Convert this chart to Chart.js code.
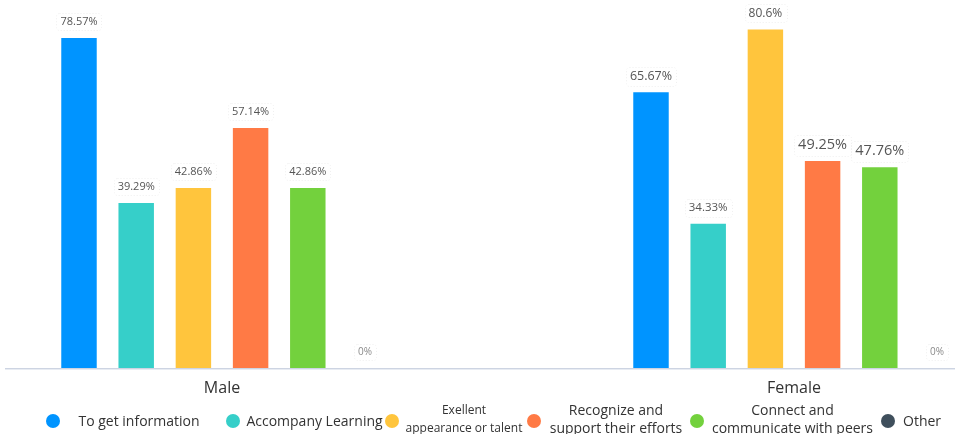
<!DOCTYPE html>
<html>
<head>
<meta charset="utf-8">
<script src="https://cdn.jsdelivr.net/npm/chart.js@4.4.1/dist/chart.umd.min.js"></script>
<style>
    html, body { margin: 0; padding: 0; background: #fff; }
    #wrap { position: relative; width: 955px; height: 434px; overflow: hidden; font-family: 'Open Sans', sans-serif; }
    #chart { position: absolute; left: 0; top: 0; }
    .lg-dot { position: absolute; width: 14px; height: 14px; border-radius: 50%; }
    .lg-text { position: absolute; color: #333; white-space: nowrap; text-align: center; line-height: 18px; }
</style>
</head>
<body>
<div id="wrap">
    <canvas id="chart" width="955" height="434"></canvas>
    <div id="legend"></div>
</div>
<script>
const genders = ['Male', 'Female'];
const reasons = [
    'To get information',
    'Accompany Learning',
    ['Exellent', 'appearance or talent'],
    ['Recognize and', 'support their efforts'],
    ['Connect and', 'communicate with peers'],
    'Other'
];

// percentages per gender: [Male, Female]
const toGetInformation = [78.57, 65.67];
const accompanyLearning = [39.29, 34.33];
const excellentAppearance = [42.86, 80.6];
const recognizeEfforts = [57.14, 49.25];
const connectWithPeers = [42.86, 47.76];
const otherReason = [0, 0];

const seriesValues = [toGetInformation, accompanyLearning, excellentAppearance, recognizeEfforts, connectWithPeers, otherReason];
const seriesColors = ['#0094ff', '#36cfc9', '#ffc53d', '#ff7a45', '#73d13d', '#3f4f5c'];

// value label font size per series, [Male, Female]
const labelSizes = [[11, 12.5], [11, 11.5], [11, 12], [11, 14.5], [11, 14.5], [10, 10]];

// legend placement: dot centre, text box left/width, font size
const legendSpots = [
    { dot: 53, left: 78, width: 122, size: 14 },
    { dot: 233, left: 246, width: 137, size: 14 },
    { dot: 392, left: 405, width: 118, size: 12 },
    { dot: 534, left: 548, width: 136, size: 14 },
    { dot: 697, left: 710, width: 165, size: 14 },
    { dot: 888, left: 903, width: 38, size: 14 }
];

const FONT = '"Open Sans", sans-serif';

// full-width baseline under the bars
const baseLine = {
    id: 'baseLine',
    beforeDatasetsDraw(chart) {
        const { ctx, chartArea } = chart;
        const y = Math.round(chartArea.bottom) + 0.5;
        ctx.save();
        ctx.lineWidth = 1;
        ctx.strokeStyle = '#cdd4e2';
        ctx.beginPath(); ctx.moveTo(5, y); ctx.lineTo(955, y); ctx.stroke();
        ctx.strokeStyle = '#e8ecf3';
        ctx.beginPath(); ctx.moveTo(5, y + 1); ctx.lineTo(955, y + 1); ctx.stroke();
        ctx.restore();
    }
};

// percentage tags above each bar
const valueLabels = {
    id: 'valueLabels',
    afterDatasetsDraw(chart) {
        const ctx = chart.ctx;
        chart.data.datasets.forEach((ds, di) => {
            chart.getDatasetMeta(di).data.forEach((bar, i) => {
                const v = ds.data[i];
                const size = labelSizes[di][i];
                const text = v + '%';
                ctx.save();
                ctx.font = size + 'px ' + FONT;
                const w = ctx.measureText(text).width;
                const cy = bar.y - 16;
                ctx.strokeStyle = '#efefef';
                ctx.lineWidth = 1;
                ctx.setLineDash([1, 2]);
                ctx.beginPath();
                ctx.roundRect(Math.round(bar.x - w / 2 - 4) + 0.5, Math.round(cy - size / 2 - 3) + 0.5, Math.round(w + 8), Math.round(size + 6), 3);
                ctx.stroke();
                ctx.setLineDash([]);
                ctx.fillStyle = v === 0 ? '#8a8a8a' : '#555';
                ctx.textAlign = 'center';
                ctx.textBaseline = 'middle';
                ctx.fillText(text, bar.x, cy);
                ctx.restore();
            });
        });
    }
};

function renderChart() {
    const ctx = document.getElementById('chart');
    new Chart(ctx, {
        type: 'bar',
        data: {
            labels: genders,
            datasets: seriesValues.map((vals, i) => ({
                label: reasons[i],
                data: vals,
                backgroundColor: seriesColors[i],
                borderWidth: 0,
                clip: false
            }))
        },
        options: {
            responsive: false,
            animation: false,
            devicePixelRatio: 1,
            categoryPercentage: 0.6,
            barPercentage: 0.62,
            layout: { padding: { left: 222, right: 161, top: 0, bottom: 0 } },
            plugins: {
                legend: { display: false },
                tooltip: { enabled: false }
            },
            scales: {
                x: {
                    offset: false,
                    grid: { display: false },
                    border: { display: false },
                    ticks: { color: '#333', font: { family: FONT, size: 16 }, padding: 3, maxRotation: 0 },
                    afterFit: scale => { scale.height = 66; }
                },
                y: { display: false, min: 0, max: 87.6 }
            }
        },
        plugins: [baseLine, valueLabels]
    });
}

function renderLegend() {
    const box = document.getElementById('legend');
    reasons.forEach((name, i) => {
        const spot = legendSpots[i];
        const lines = Array.isArray(name) ? name : [name];

        const dot = document.createElement('div');
        dot.className = 'lg-dot';
        dot.style.left = (spot.dot - 7) + 'px';
        dot.style.top = '414px';
        dot.style.background = seriesColors[i];
        box.appendChild(dot);

        const txt = document.createElement('div');
        txt.className = 'lg-text';
        txt.style.left = spot.left + 'px';
        txt.style.width = spot.width + 'px';
        txt.style.fontSize = spot.size + 'px';
        txt.style.top = (lines.length > 1 ? 401 : 412) + 'px';
        txt.innerHTML = lines.join('<br>');
        box.appendChild(txt);
    });
}

renderChart();
renderLegend();
</script>
</body>
</html>
